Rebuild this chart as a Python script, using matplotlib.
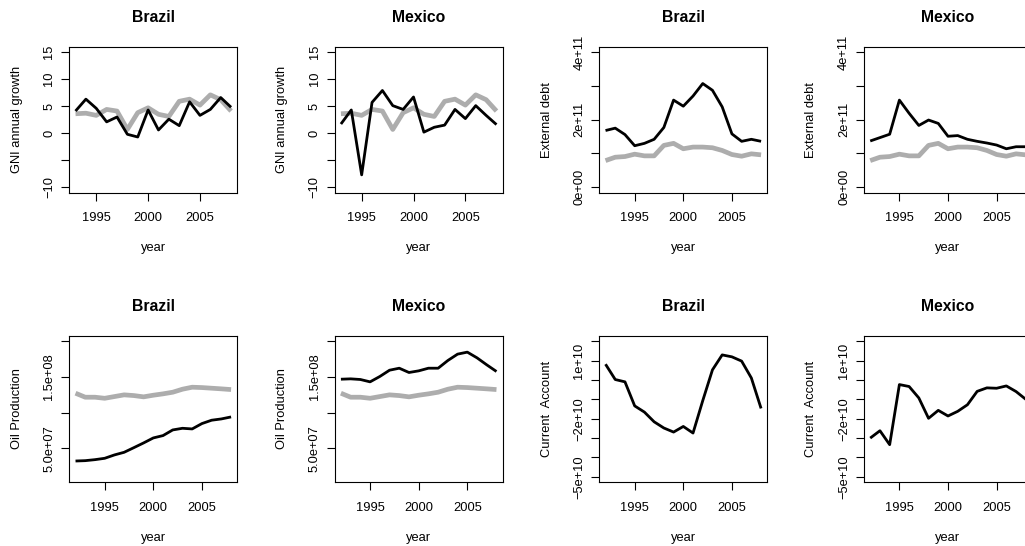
# ========================================
# BRAZIL / MEXICO - MACRO INDICATORS
# ========================================

import matplotlib.pyplot as plt

plt.rcParams["font.family"] = ["Liberation Sans", "DejaVu Sans"]

# --- data ---
years_gni = list(range(1993, 2009))
years = list(range(1992, 2009))

gni_brazil = [4.1, 6.3, 4.6, 2.1, 3.0, -0.2, -0.7, 4.3, 0.6, 2.6, 1.4, 5.8, 3.3, 4.4, 6.6, 4.8]
gni_mexico = [1.7, 4.3, -7.7, 5.7, 7.9, 5.1, 4.4, 6.7, 0.2, 1.1, 1.5, 4.4, 2.7, 5.1, 3.3, 1.6]
gni_region = [3.6, 3.7, 3.3, 4.4, 4.1, 0.7, 3.8, 4.7, 3.5, 3.1, 5.9, 6.3, 5.2, 7.1, 6.2, 4.1]

debt_brazil = [1.68e11, 1.75e11, 1.56e11, 1.23e11, 1.30e11, 1.42e11, 1.77e11, 2.58e11, 2.40e11,
               2.70e11, 3.07e11, 2.87e11, 2.38e11, 1.58e11, 1.36e11, 1.42e11, 1.36e11]
debt_mexico = [1.37e11, 1.47e11, 1.57e11, 2.58e11, 2.19e11, 1.83e11, 1.99e11, 1.89e11, 1.51e11,
               1.53e11, 1.42e11, 1.36e11, 1.31e11, 1.25e11, 1.14e11, 1.20e11, 1.20e11]
debt_region = [0.79e11, 0.89e11, 0.91e11, 0.98e11, 0.93e11, 0.93e11, 1.24e11, 1.30e11, 1.14e11,
               1.19e11, 1.19e11, 1.17e11, 1.09e11, 0.97e11, 0.92e11, 0.99e11, 0.96e11]

oil_brazil = [3.22e7, 3.27e7, 3.41e7, 3.60e7, 4.07e7, 4.44e7, 5.09e7, 5.75e7, 6.45e7,
              6.78e7, 7.57e7, 7.80e7, 7.71e7, 8.46e7, 8.93e7, 9.11e7, 9.39e7]
oil_mexico = [1.467e8, 1.472e8, 1.463e8, 1.430e8, 1.505e8, 1.593e8, 1.621e8, 1.561e8, 1.584e8,
              1.621e8, 1.621e8, 1.729e8, 1.818e8, 1.846e8, 1.766e8, 1.668e8, 1.575e8]
oil_region = [1.271e8, 1.215e8, 1.215e8, 1.200e8, 1.224e8, 1.248e8, 1.238e8, 1.220e8, 1.243e8,
              1.262e8, 1.285e8, 1.327e8, 1.355e8, 1.350e8, 1.341e8, 1.332e8, 1.322e8]

ca_brazil = [0.81e10, 0.02e10, -0.10e10, -1.34e10, -1.66e10, -2.16e10, -2.48e10, -2.69e10, -2.40e10,
             -2.74e10, -1.07e10, 0.52e10, 1.29e10, 1.19e10, 0.97e10, 0.10e10, -1.47e10]
ca_mexico = [-3.00e10, -2.62e10, -3.34e10, -0.24e10, -0.34e10, -0.93e10, -1.98e10, -1.57e10, -1.86e10,
             -1.62e10, -1.28e10, -0.59e10, -0.41e10, -0.43e10, -0.31e10, -0.60e10, -1.00e10]

# --- ticks (R drops overlapping labels) ---
x_ticks = [1995, 2000, 2005]
x_labels = ["1995", "2000", "2005"]
gni_ticks = [-10, -5, 0, 5, 10, 15]
gni_labels = ["\u221210", "", "0", "5", "10", "15"]
debt_ticks = [0, 1e11, 2e11, 3e11, 4e11]
debt_labels = ["0e+00", "", "2e+11", "", "4e+11"]
oil_ticks = [5e7, 1e8, 1.5e8, 2e8]
oil_labels = ["5.0e+07", "", "1.5e+08", ""]
ca_ticks = [-5e10, -4e10, -3e10, -2e10, -1e10, 0, 1e10, 2e10]
ca_labels = ["\u22125e+10", "", "", "\u22122e+10", "", "", "1e+10", ""]

W, H = 1025, 546
BLACK_LW = 2.0
GRAY_LW = 3.4
GRAY = "#ADADAD"
FS = 9.3


def panel(fig, left, top, height, title, ylabel):
    """Create an R-style axes at pixel position."""
    ax = fig.add_axes([left / W, 1 - (top + height) / H, 168 / W, height / H])
    for s in ax.spines.values():
        s.set_linewidth(0.8)
    ax.tick_params(direction="out", length=5.5, width=0.8, labelsize=FS)
    ax.tick_params(axis="x", pad=8.5)
    ax.tick_params(axis="y", pad=4.5)
    ax.set_title(title, fontsize=11.3, fontweight="bold", y=1 + 29 / height,
                 va="center", pad=0)
    ax.set_xlabel("year", fontsize=FS, va="center")
    ax.xaxis.set_label_coords(0.5, -55.6 / height)
    ax.set_ylabel(ylabel, fontsize=FS, va="center")
    ax.yaxis.set_label_coords(-52.5 / 168, 0.5)
    ax.set_xticks(x_ticks)
    ax.set_xticklabels(x_labels)
    return ax


def set_y(ax, ticks, labels, lim):
    ax.set_yticks(ticks)
    ax.set_yticklabels(labels, rotation=90, va="center")
    ax.set_ylim(*lim)


fig = plt.figure(figsize=(W / 100, H / 100), dpi=100)

cols = [69.3, 334.7, 599.3, 864]
row1, row2 = 46.7, 335.7
h1, h2 = 146, 146.6

# GNI growth
for col, name, serie in [(cols[0], "Brazil", gni_brazil), (cols[1], "Mexico", gni_mexico)]:
    ax = panel(fig, col, row1, h1, name, "GNI annual growth")
    ax.plot(years_gni, gni_region, color=GRAY, lw=GRAY_LW, solid_capstyle="butt")
    ax.plot(years_gni, serie, color="black", lw=BLACK_LW, solid_capstyle="butt")
    ax.set_xlim(1992.4, 2008.6)
    set_y(ax, gni_ticks, gni_labels, (-11, 16))

# External debt
for col, name, serie in [(cols[2], "Brazil", debt_brazil), (cols[3], "Mexico", debt_mexico)]:
    ax = panel(fig, col, row1, h1, name, "External debt")
    ax.plot(years, debt_region, color=GRAY, lw=GRAY_LW, solid_capstyle="butt")
    ax.plot(years, serie, color="black", lw=BLACK_LW, solid_capstyle="butt")
    ax.set_xlim(1991.36, 2008.64)
    set_y(ax, debt_ticks, debt_labels, (-0.16e11, 4.16e11))

# Oil production
for col, name, serie in [(cols[0], "Brazil", oil_brazil), (cols[1], "Mexico", oil_mexico)]:
    ax = panel(fig, col, row2, h2, name, "Oil Production")
    ax.plot(years, oil_region, color=GRAY, lw=GRAY_LW, solid_capstyle="butt")
    ax.plot(years, serie, color="black", lw=BLACK_LW, solid_capstyle="butt")
    ax.set_xlim(1991.36, 2008.64)
    set_y(ax, oil_ticks, oil_labels, (0.24e7, 2.076e8))

# Current account
for col, name, serie in [(cols[2], "Brazil", ca_brazil), (cols[3], "Mexico", ca_mexico)]:
    ax = panel(fig, col, row2, h2, name, "Current  Account")
    ax.plot(years, serie, color="black", lw=BLACK_LW, solid_capstyle="butt")
    ax.set_xlim(1991.36, 2008.64)
    set_y(ax, ca_ticks, ca_labels, (-5.28e10, 2.28e10))

plt.savefig("out.png", dpi=100)
